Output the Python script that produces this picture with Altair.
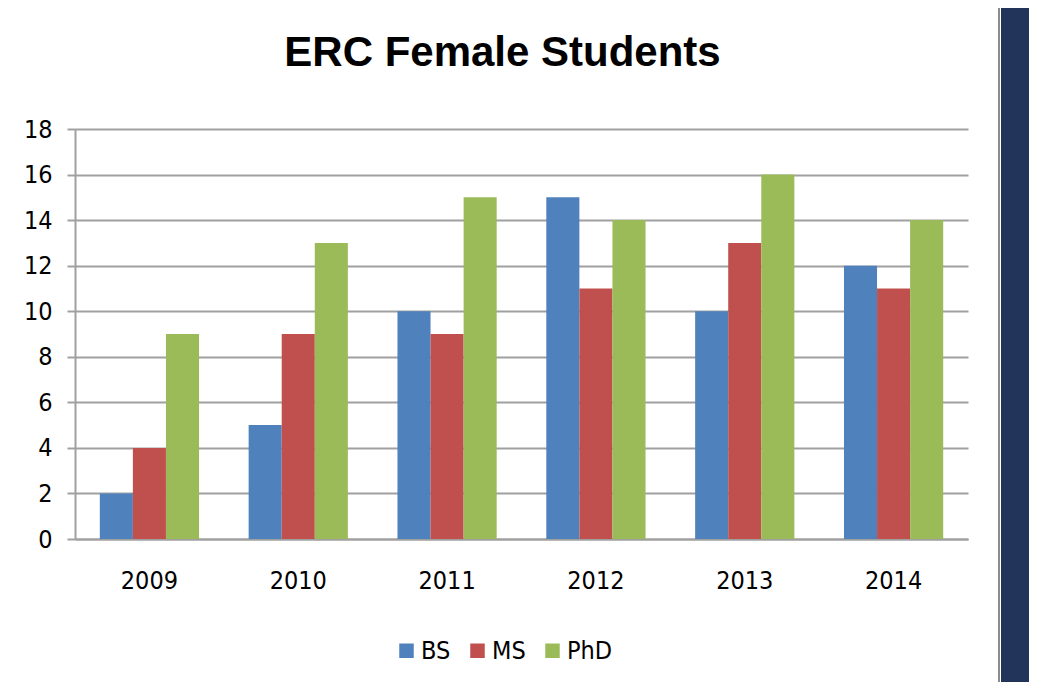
import altair as alt
import pandas as pd

years = ["2009", "2010", "2011", "2012", "2013", "2014"]
degrees = ["BS", "MS", "PhD"]
bs = [2, 5, 10, 15, 10, 12]
ms = [4, 9, 9, 11, 13, 11]
phd = [9, 13, 15, 14, 16, 14]
colors = ["#4F81BD", "#C0504D", "#9BBB59"]
y_ticks = [0, 2, 4, 6, 8, 10, 12, 14, 16, 18]

rows = []
for d, vals in zip(degrees, [bs, ms, phd]):
    for yr, v in zip(years, vals):
        rows.append({"Year": yr, "Degree": d, "Students": v})
df = pd.DataFrame(rows)

FONT = "DejaVu Sans Condensed, sans-serif"
GRID = "#a0a0a0"

bars = alt.Chart(df).mark_bar().encode(
    x=alt.X(
        "Year:N",
        sort=years,
        scale=alt.Scale(paddingInner=1 / 3, paddingOuter=1 / 6),
        axis=alt.Axis(
            title=None, labelAngle=0, ticks=False, grid=False,
            domainColor=GRID, domainWidth=2, labelFont=FONT,
            labelFontSize=25, labelColor="#000", labelPadding=29,
        ),
    ),
    xOffset=alt.XOffset("Degree:N", sort=degrees,
                        scale=alt.Scale(paddingInner=0, paddingOuter=0)),
    y=alt.Y(
        "Students:Q",
        scale=alt.Scale(domain=[0, 18], nice=False),
        axis=alt.Axis(
            title=None, values=y_ticks, tickSize=8, tickColor=GRID,
            tickWidth=2, gridColor=GRID, gridWidth=2, domainColor=GRID,
            domainWidth=2, labelFont=FONT, labelFontSize=25,
            labelColor="#000", labelPadding=15,
        ),
    ),
    color=alt.Color(
        "Degree:N",
        sort=degrees,
        scale=alt.Scale(domain=degrees, range=colors),
        legend=alt.Legend(
            title=None, orient="none", direction="horizontal",
            legendX=319, legendY=509, symbolType="square",
            symbolSize=210, symbolStrokeWidth=0, symbolOpacity=1,
            labelFont=FONT, labelFontSize=25, labelColor="#000",
            labelOffset=2, columnPadding=14,
        ),
    ),
)

deco = alt.Chart(pd.DataFrame({"k": [0]}))
strip = deco.mark_rect(color="#22345A").encode(
    x=alt.value(926), x2=alt.value(980), y=alt.value(-130), y2=alt.value(560)
)
edge = deco.mark_rule(color="#8c8c8c", strokeWidth=2).encode(
    x=alt.value(924), y=alt.value(-130), y2=alt.value(560)
)

chart = alt.layer(bars, strip, edge).properties(
    width=893,
    height=410,
    autosize=alt.AutoSizeParams(type="none"),
    padding={"left": 67, "top": 121, "right": 61, "bottom": 143},
    title=alt.Title(
        "ERC Female Students", font="Liberation Sans, sans-serif",
        fontSize=42, fontWeight="bold", color="#000", anchor="middle",
        baseline="alphabetic", dx=-19, offset=-110,
    ),
).configure_view(stroke=None)

chart.save("out.html", embed_options={"renderer": "svg", "actions": False})
